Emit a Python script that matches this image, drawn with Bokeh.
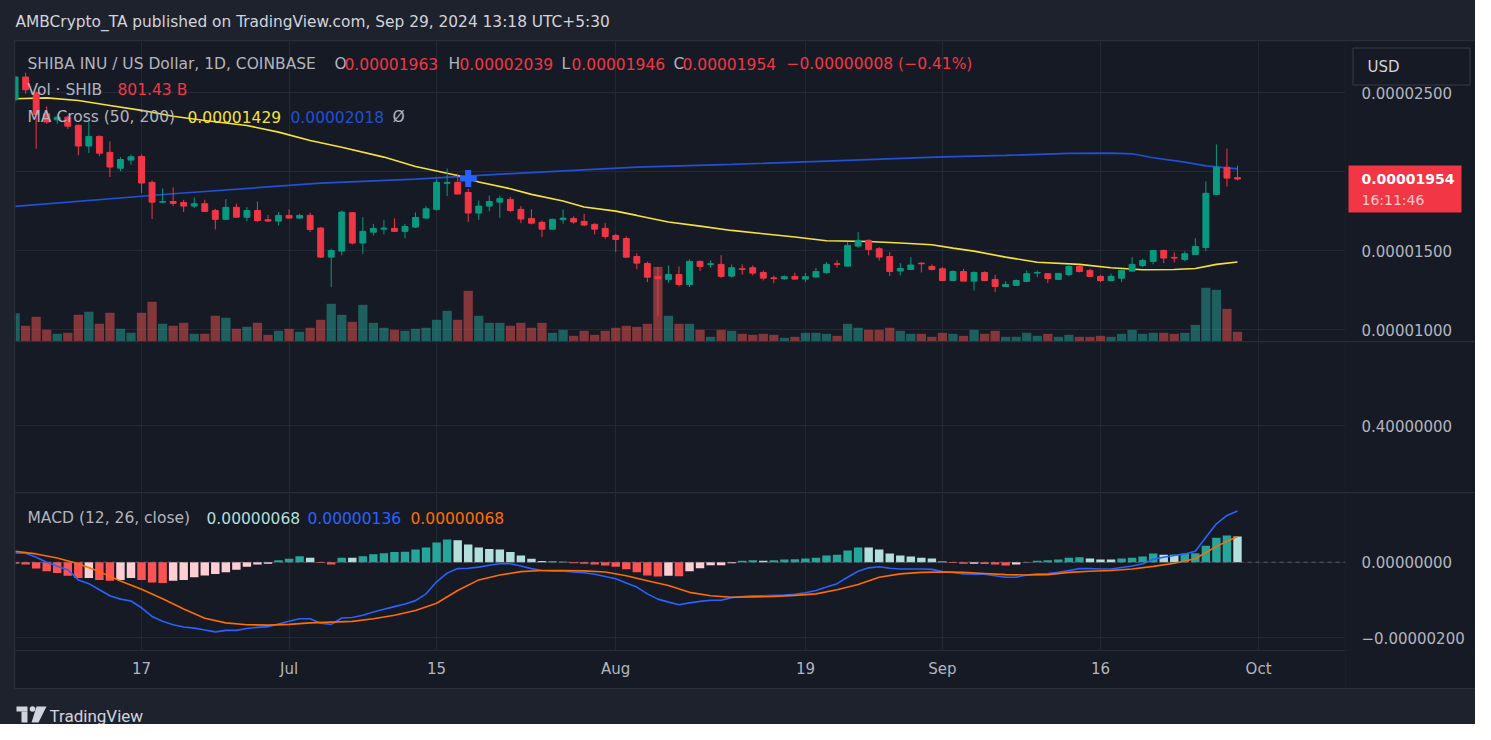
import numpy as np
import pandas as pd
from bokeh.plotting import figure
from bokeh.models import (ColumnDataSource, Range1d, FixedTicker, CustomJSTickFormatter,
                          Span, Grid, Spacer)
from bokeh.layouts import column, row
from bokeh.core.properties import value
from bokeh.embed import file_html
from bokeh.resources import INLINE

# ------------------------------------------------------------------ data
# prices are in units of 1e-8 USD; one candle per day starting at first_day
first_day = "2024-06-05"
opens = [2456, 2600, 2500, 2367, 2329, 2346, 2294, 2163, 2224, 2123,
         2023, 2074, 2097, 1933, 1808, 1812, 1806, 1783, 1798, 1755,
         1699, 1775, 1713, 1755, 1697, 1688, 1724, 1707, 1724, 1644,
         1460, 1498, 1741, 1549, 1618, 1637, 1642, 1623, 1650, 1707,
         1762, 1927, 1933, 1869, 1739, 1783, 1808, 1825, 1762, 1705,
         1680, 1637, 1697, 1705, 1686, 1667, 1642, 1597, 1578, 1464,
         1420, 1338, 1319, 1350, 1287, 1433, 1414, 1414, 1340, 1386,
         1393, 1363, 1329, 1323, 1338, 1321, 1334, 1363, 1418, 1403,
         1530, 1566, 1513, 1464, 1372, 1382, 1422, 1401, 1386, 1312,
         1369, 1308, 1363, 1319, 1274, 1281, 1306, 1359, 1355, 1319,
         1350, 1401, 1376, 1338, 1312, 1327, 1372, 1407, 1433, 1502,
         1458, 1445, 1477, 1521, 1857, 2029, 1963]
highs = [2610, 2627, 2510, 2414, 2357, 2357, 2300, 2315, 2230, 2192,
         2093, 2110, 2110, 1945, 1895, 1901, 1823, 1838, 1823, 1766,
         1827, 1798, 1776, 1812, 1726, 1745, 1762, 1734, 1741, 1650,
         1513, 1755, 1745, 1713, 1671, 1696, 1705, 1671, 1743, 1783,
         1952, 2021, 1988, 1893, 1819, 1850, 1850, 1840, 1783, 1762,
         1692, 1703, 1762, 1718, 1734, 1675, 1675, 1608, 1591, 1485,
         1431, 1397, 1407, 1401, 1445, 1437, 1439, 1473, 1414, 1414,
         1407, 1376, 1344, 1344, 1361, 1359, 1393, 1428, 1439, 1555,
         1618, 1572, 1523, 1492, 1422, 1460, 1428, 1414, 1397, 1376,
         1386, 1369, 1369, 1348, 1308, 1319, 1376, 1376, 1359, 1359,
         1414, 1407, 1386, 1348, 1355, 1380, 1460, 1450, 1506, 1509,
         1490, 1496, 1580, 1939, 2173, 2148, 2039]
lows = [2440, 2494, 2146, 2304, 2304, 2272, 2104, 2118, 2099, 1967,
        2004, 2045, 1865, 1701, 1802, 1783, 1745, 1770, 1745, 1635,
        1695, 1710, 1688, 1682, 1684, 1660, 1703, 1703, 1618, 1455,
        1270, 1471, 1540, 1481, 1597, 1604, 1618, 1580, 1644, 1703,
        1755, 1846, 1859, 1682, 1696, 1751, 1709, 1745, 1675, 1667,
        1587, 1637, 1671, 1671, 1656, 1604, 1576, 1492, 1456, 1384,
        1302, 1085, 1298, 1274, 1270, 1372, 1393, 1329, 1329, 1350,
        1344, 1312, 1296, 1317, 1317, 1302, 1329, 1355, 1393, 1403,
        1519, 1471, 1439, 1340, 1344, 1382, 1363, 1376, 1308, 1308,
        1308, 1249, 1308, 1238, 1274, 1281, 1302, 1333, 1296, 1317,
        1338, 1363, 1334, 1302, 1306, 1302, 1369, 1397, 1414, 1422,
        1426, 1435, 1477, 1498, 1857, 1907, 1946]
closes = [2600, 2519, 2363, 2315, 2346, 2289, 2163, 2224, 2118, 2030,
          2078, 2095, 1929, 1808, 1812, 1800, 1783, 1798, 1749, 1699,
          1775, 1713, 1755, 1692, 1688, 1724, 1707, 1724, 1635, 1460,
          1502, 1745, 1549, 1623, 1642, 1644, 1623, 1654, 1711, 1766,
          1933, 1933, 1859, 1739, 1783, 1812, 1831, 1755, 1701, 1675,
          1637, 1699, 1707, 1682, 1663, 1637, 1591, 1572, 1460, 1422,
          1333, 1323, 1350, 1287, 1433, 1401, 1418, 1338, 1393, 1382,
          1359, 1327, 1325, 1336, 1321, 1336, 1369, 1414, 1414, 1534,
          1566, 1509, 1460, 1369, 1388, 1410, 1418, 1382, 1312, 1369,
          1308, 1363, 1312, 1274, 1287, 1312, 1355, 1363, 1325, 1357,
          1401, 1369, 1338, 1312, 1338, 1376, 1414, 1439, 1502, 1454,
          1454, 1481, 1528, 1864, 2029, 1960, 1954]
# volume in billions of SHIB
volume_b = [2338, 1297, 2040, 966, 636, 719, 2205, 2453, 1462, 2371,
            1049, 719, 2371, 3279, 1462, 1297, 1545, 636, 636, 2123,
            1958, 1049, 1214, 1545, 553, 884, 1049, 801, 1132, 1792,
            3114, 2205, 1627, 3031, 1545, 1132, 966, 884, 1049, 1132,
            1792, 2536, 1792, 4188, 2123, 1545, 1545, 1297, 1545, 1132,
            1545, 719, 966, 471, 884, 553, 884, 1132, 1297, 1214,
            1462, 6170, 2123, 1462, 1462, 966, 388, 966, 884, 636,
            553, 636, 553, 306, 388, 719, 719, 636, 471, 1462,
            1132, 966, 966, 1132, 884, 636, 636, 388, 719, 636,
            471, 966, 636, 884, 388, 388, 719, 471, 636, 388,
            553, 388, 388, 471, 388, 636, 966, 636, 719, 719,
            636, 719, 1379, 4436, 4270, 2701, 801.43]
price_change_text = "\u22120.00000008 (\u22120.41%)"
countdown_text = "16:11:46"
currency_text = "USD"

# moving averages read at sample days (day offsets from first_day)
ma50_days = [0, 3, 6, 9, 12, 15, 18, 22, 25, 28, 31, 35, 38, 42, 44, 47, 49, 52, 54, 57,
             59, 62, 65, 68, 71, 74, 76, 77, 81, 84, 87, 89, 91, 94, 97, 101, 104, 107,
             110, 112, 114, 116]
ma50_vals = [2462, 2468, 2451, 2420, 2389, 2352, 2325, 2293, 2251, 2198, 2155, 2093, 2034,
             1977, 1935, 1893, 1857, 1815, 1777, 1751, 1724, 1682, 1656, 1629, 1608, 1587,
             1572, 1564, 1559, 1549, 1538, 1517, 1498, 1460, 1428, 1414, 1393, 1380, 1382,
             1388, 1414, 1429]
ma200_days = [0, 15, 29, 38, 48, 59, 68, 77, 88, 94, 100, 104, 106, 108, 111, 113, 116]
ma200_vals = [1781, 1861, 1928, 1954, 1992, 2030, 2047, 2068, 2094, 2104, 2116, 2118,
              2114, 2089, 2061, 2038, 2018]
cross_days = [43]
cross_vals = [1958]

# MACD (units of 1e-8)
macd_line = [24.8, 24, 13, 0, -11, -20, -47, -57, -73, -89,
             -98, -103, -121, -144, -157, -166, -172, -175, -180, -185,
             -181, -181, -176, -173, -171, -164, -157, -150, -150, -162,
             -165, -148, -147, -141, -132, -125, -118, -111, -102, -84,
             -52, -29, -17, -16, -13, -8, -4, -4, -10, -17,
             -22, -24, -24, -26, -28, -32, -38, -44, -55, -66,
             -84, -98, -106, -113, -108, -104, -101, -101, -94, -91,
             -89, -89, -88, -87, -85, -81, -75, -66, -57, -40,
             -24, -15, -12, -16, -18, -18, -18, -19, -25, -27,
             -31, -32, -32, -36, -40, -40, -34, -31, -30, -27,
             -22, -17, -17, -18, -18, -14, -10, -4, 8, 13,
             18, 22, 29, 66, 102, 124, 136]
macd_hist = [-4, -6, -17, -24, -29, -36, -42, -42, -47, -49,
             -47, -42, -47, -54, -55, -49, -47, -40, -35, -31,
             -27, -20, -12, -6, -4, 5, 9, 16, 12, -2,
             -6, 12, 12, 16, 21, 24, 27, 28, 34, 39,
             52, 60, 58, 47, 39, 35, 34, 27, 18, 9,
             3, 2, 1, -3, -4, -6, -9, -12, -19, -27,
             -35, -38, -36, -37, -24, -16, -8, -8, -3, 4,
             5, 4, 5, 7, 8, 10, 12, 18, 20, 31,
             39, 39, 34, 23, 18, 15, 12, 10, 2, -2,
             -4, -4, -5, -6, -9, -6, -1, 4, 5, 7,
             12, 13, 10, 7, 7, 10, 12, 15, 23, 20,
             20, 23, 24, 44, 65, 71, 68]
signal_days = [0, 2, 4, 6, 8, 10, 12, 14, 16, 18, 20, 22, 24, 26, 28, 30, 32, 34, 36, 38,
               40, 42, 44, 46, 48, 50, 52, 54, 56, 58, 60, 62, 64, 66, 68, 70, 72, 74, 76,
               78, 80, 82, 84, 86, 88, 90, 92, 94, 96, 98, 100, 102, 104, 106, 108, 110,
               112, 114, 116]
signal_vals = [29, 22, 11, -4, -25, -50, -72, -97, -124, -149, -161, -166, -167, -165, -161,
               -159, -157, -150, -141, -128, -109, -75, -47, -34, -25, -22, -22, -23, -26,
               -36, -49, -62, -80, -89, -93, -92, -91, -88, -84, -73, -59, -40, -31, -27,
               -26, -27, -30, -33, -34, -33, -27, -24, -22, -18, -11, -3, 9, 42, 68]

x_tick_dates = ["2024-06-17", "2024-07-01", "2024-07-15", "2024-08-01",
                "2024-08-19", "2024-09-01", "2024-09-16", "2024-10-01"]
x_tick_labels = ["17", "Jul", "15", "Aug", "19", "Sep", "16", "Oct"]
price_ticks = [1000, 1500, 2000, 2500]
macd_ticks = [-200, 0]
empty_ticks = [0.4]

# ------------------------------------------------------------------ style
FONT = "DejaVu Sans"
BG = "#161a25"
OUTER = "#1e222d"
GRID = "#242834"
SEP = "#2a2e39"
TXT = "#b2b5be"
AXT = "#b2b5be"
UP = "#089981"
DOWN = "#f23645"
VOL_UP = "#26a69a"
VOL_DOWN = "#ef5350"
MA50_C = "#f5e33b"
MA200_C = "#2150d6"
MACD_C = "#2962ff"
SIG_C = "#ff6d00"

DAY = 86400000.0
base = pd.Timestamp(first_day)


def day_ms(d):
    return float((base + pd.Timedelta(days=int(d))).value // 10**6)


def date_ms(s):
    return float(pd.Timestamp(s).value // 10**6)


n = len(opens)
xs = np.array([day_ms(d) for d in range(n)])
O = np.array(opens, float); H = np.array(highs, float)
L = np.array(lows, float); C = np.array(closes, float)
up = C >= O
colors = np.where(up, UP, DOWN)
vcolors = np.where(up, VOL_UP, VOL_DOWN)

tick_ms = [date_ms(s) for s in x_tick_dates]
t17 = tick_ms[0]
x_start = t17 - 11.96 * DAY
x_end = t17 + 114.25 * DAY
xr = Range1d(x_start, x_end)

# page-pixel helpers (plot frames span x 15..1345)
FR_L, FR_R = 15.0, 1345.0


def X(px):
    return x_start + (px - FR_L) / (FR_R - FR_L) * (x_end - x_start)


P_TOP = 1500 + (250.3 - 41) / 0.158
P_BOT = 1500 - (341 - 250.3) / 0.158


def PY(py):
    return P_TOP - (py - 41) / 300.0 * (P_TOP - P_BOT)


def P2PX(p):
    return 41 + (P_TOP - p) / (P_TOP - P_BOT) * 300.0


M_TOP = (561.7 - 493) / 0.3767
M_BOT = (561.7 - 650) / 0.3767


def MY(py):
    return M_TOP - (py - 493) / 157.0 * (M_TOP - M_BOT)


def fmt8(v):
    s = "%.8f" % abs(v * 1e-8)
    return ("\u2212" if v < 0 else "") + s


lab_map = {str(int(t)): l for t, l in zip(tick_ms, x_tick_labels)}
map_js = "{" + ",".join('"%s":"%s"' % (k, v) for k, v in lab_map.items()) + "}"
fmt_x = CustomJSTickFormatter(code="const m = %s; const k = String(Math.round(tick)); return (k in m) ? m[k] : '';" % map_js)


def no_grid(f):
    for g in f.grid:
        g.grid_line_color = None


def pane(height, y_range, bottom=0):
    p = figure(width=1330, height=height, x_range=xr, y_range=y_range,
               x_axis_location=("below" if bottom else None), y_axis_location=None,
               toolbar_location=None, output_backend="svg",
               min_border_left=0, min_border_right=0, min_border_top=0,
               min_border_bottom=bottom)
    p.background_fill_color = BG
    p.border_fill_color = BG
    p.outline_line_color = None
    no_grid(p)
    p.add_layout(Grid(dimension=0, ticker=FixedTicker(ticks=tick_ms), grid_line_color=GRID))
    if bottom:
        xa = p.xaxis[0]
        xa.ticker = FixedTicker(ticks=tick_ms)
        xa.formatter = fmt_x
        xa.axis_line_color = SEP
        xa.major_tick_line_color = None
        xa.minor_tick_line_color = None
        xa.major_label_text_color = AXT
        xa.major_label_text_font = FONT
        xa.major_label_text_font_size = "15px"
        xa.major_label_standoff = 3
    return p


def scale_fig(height, y_range, bottom=0):
    f = figure(width=130, height=height, x_range=Range1d(0, 130), y_range=y_range,
               x_axis_location=None, y_axis_location=None, toolbar_location=None,
               output_backend="svg", min_border_left=0, min_border_right=0,
               min_border_top=0, min_border_bottom=bottom)
    f.background_fill_color = BG
    f.border_fill_color = BG
    f.outline_line_color = None
    no_grid(f)
    return f


def hgrid(p, ticks):
    p.add_layout(Grid(dimension=1, ticker=FixedTicker(ticks=ticks), grid_line_color=GRID))


def scale_labels(f, ticks, labels):
    f.text(x=[16] * len(ticks), y=ticks, text=labels, text_color=AXT,
           text_font=value(FONT), text_font_size="15px", text_baseline="middle",
           text_align="left")


# ------------------------------------------------------------------ main pane
main_y = Range1d(P_BOT, P_TOP)
main = pane(300, main_y)
hgrid(main, price_ticks)
main.extra_y_ranges = {"vol": Range1d(0, 300 * 82.6)}

src = ColumnDataSource(dict(x=xs, o=O, h=H, l=L, c=C,
                            top=np.maximum(O, C), bot=np.minimum(O, C),
                            color=colors, vcolor=vcolors, vol=np.array(volume_b, float)))
main.vbar(x="x", width=0.88 * DAY, top="vol", bottom=0, y_range_name="vol",
          fill_color="vcolor", line_color=None, fill_alpha=0.5, source=src)
main.line([day_ms(d) for d in ma200_days], ma200_vals, line_color=MA200_C, line_width=1.7)
main.line([day_ms(d) for d in ma50_days], ma50_vals, line_color=MA50_C, line_width=1.6)
main.segment(x0="x", y0="l", x1="x", y1="h", line_color="color", line_width=1, source=src)
main.vbar(x="x", width=0.56 * DAY, top="top", bottom="bot", fill_color="color",
          line_color="color", line_width=1, source=src)
main.scatter([day_ms(d) for d in cross_days], cross_vals, marker="cross", size=17,
             line_width=6, line_color="#2962ff")

RED_T = DOWN if closes[-1] < opens[-1] else UP
legend_items = [
    ("SHIBA INU / US Dollar, 1D, COINBASE", TXT, 27, 63),
    ("O", TXT, 334, 63), ("%.8f" % (opens[-1] * 1e-8), RED_T, 344, 63),
    ("H", TXT, 448, 63), ("%.8f" % (highs[-1] * 1e-8), RED_T, 459, 63),
    ("L", TXT, 561, 63), ("%.8f" % (lows[-1] * 1e-8), RED_T, 571, 63),
    ("C", TXT, 673, 63), ("%.8f" % (closes[-1] * 1e-8), RED_T, 682, 63),
    (price_change_text, RED_T, 786, 63),
    ("Vol \u00b7 SHIB", TXT, 27, 89), ("%.2f B" % volume_b[-1], RED_T, 117, 89),
    ("MA Cross (50, 200)", TXT, 27, 116),
    ("%.8f" % (ma50_vals[-1] * 1e-8), MA50_C, 187, 116),
    ("%.8f" % (ma200_vals[-1] * 1e-8), MA200_C, 290, 116),
    ("\u00d8", TXT, 392, 116),
]
leg = ColumnDataSource(dict(x=[X(i[2]) for i in legend_items], y=[PY(i[3]) for i in legend_items],
                            text=[i[0] for i in legend_items], color=[i[1] for i in legend_items]))
main.text(x="x", y="y", text="text", text_color="color", source=leg,
          text_font=value(FONT), text_font_size="15.5px", text_baseline="middle", text_align="left")

main_s = scale_fig(300, main_y)
scale_labels(main_s, price_ticks, [fmt8(t) for t in price_ticks])
# last-price tag
cpx = P2PX(closes[-1])
main_s.quad(left=[3], right=[116], top=[PY(cpx - 13.6)], bottom=[PY(cpx + 33.4)],
            fill_color=DOWN, line_color=None)
main_s.text(x=[16], y=[closes[-1]], text=[fmt8(closes[-1])], text_color="#ffffff",
            text_font=value(FONT), text_font_size="14px", text_font_style="bold",
            text_baseline="middle", text_align="left")
main_s.text(x=[16], y=[PY(cpx + 21)], text=[countdown_text], text_color="#fbc8cd",
            text_font=value(FONT), text_font_size="14px",
            text_baseline="middle", text_align="left")
# currency box
main_s.quad(left=[7.5], right=[124.5], top=[PY(47.5)], bottom=[PY(84.5)],
            fill_color=BG, line_color="#363a45", line_width=1)
main_s.text(x=[22], y=[PY(66)], text=[currency_text], text_color="#d1d4dc",
            text_font=value(FONT), text_font_size="15px",
            text_baseline="middle", text_align="left")

# ------------------------------------------------------------------ empty pane
E_TOP = 0.4 + (425.3 - 342) * 0.005
E_BOT = 0.4 - (492 - 425.3) * 0.005
empty_y = Range1d(E_BOT, E_TOP)
empty = pane(150, empty_y)
hgrid(empty, empty_ticks)
empty_s = scale_fig(150, empty_y)
scale_labels(empty_s, empty_ticks, ["%.8f" % t for t in empty_ticks])

# ------------------------------------------------------------------ MACD pane
macd_y = Range1d(M_BOT, M_TOP)
macd = pane(195, macd_y, bottom=38)
hgrid(macd, macd_ticks)
hist_colors = []
for i, h in enumerate(macd_hist):
    prev = macd_hist[i - 1] if i > 0 else 0
    if h >= 0:
        hist_colors.append("#26a69a" if (i > 0 and h > prev) else "#b2dfdb")
    else:
        hist_colors.append("#ff5252" if (i == 0 or h < prev) else "#ffcdd2")
hsrc = ColumnDataSource(dict(x=xs, h=macd_hist, color=hist_colors))
macd.vbar(x="x", width=0.8 * DAY, top="h", bottom=0, fill_color="color",
          line_color=None, source=hsrc)
macd.add_layout(Span(location=0, dimension="width", line_color="#787b86",
                     line_alpha=0.6, line_dash="4 4", line_width=1))
macd.line(xs, macd_line, line_color=MACD_C, line_width=1.6)
macd.line([day_ms(d) for d in signal_days], signal_vals, line_color=SIG_C, line_width=1.6)
macd_items = [
    ("MACD (12, 26, close)", TXT, 27),
    ("%.8f" % (macd_hist[-1] * 1e-8), "#b2dfdb", 206),
    ("%.8f" % (macd_line[-1] * 1e-8), MACD_C, 307),
    ("%.8f" % (signal_vals[-1] * 1e-8), SIG_C, 410),
]
msrc = ColumnDataSource(dict(x=[X(i[2]) for i in macd_items], y=[MY(517)] * len(macd_items),
                             text=[i[0] for i in macd_items], color=[i[1] for i in macd_items]))
macd.text(x="x", y="y", text="text", text_color="color", source=msrc,
          text_font=value(FONT), text_font_size="15.5px", text_baseline="middle", text_align="left")
macd_s = scale_fig(195, macd_y, bottom=38)
scale_labels(macd_s, macd_ticks, [fmt8(t) for t in macd_ticks])


# ------------------------------------------------------------------ header / footer
def strip(h):
    f = figure(width=1475, height=h, x_range=Range1d(0, 1475), y_range=Range1d(h, 0),
               x_axis_location=None, y_axis_location=None, toolbar_location=None,
               output_backend="svg", min_border=0)
    f.background_fill_color = OUTER
    f.border_fill_color = OUTER
    f.outline_line_color = None
    no_grid(f)
    return f


hdr = strip(40)
hdr.text(x=[15], y=[21], text=["AMBCrypto_TA published on TradingView.com, Sep 29, 2024 13:18 UTC+5:30"],
         text_color="#d1d4dc", text_font=value(FONT), text_font_size="15.4px",
         text_baseline="middle", text_align="left")

ftr = strip(35)
LOGO = "#d1d4dc"
ftr.quad(left=[16], right=[27], top=[17], bottom=[22], fill_color=LOGO, line_color=None)
ftr.quad(left=[21], right=[27], top=[22], bottom=[33], fill_color=LOGO, line_color=None)
ftr.circle(x=[32], y=[19.5], radius=2.8, fill_color=LOGO, line_color=None)
ftr.patch([36, 46, 38, 31], [17, 17, 33, 33], fill_color=LOGO, line_color=None)
ftr.text(x=[49], y=[26], text=["TradingView"], text_color=LOGO,
         text_font=value("Roboto"), text_font_size="17px",
         text_baseline="middle", text_align="left")


# ------------------------------------------------------------------ layout
def bar(w, h, color):
    return Spacer(width=w, height=h, styles={"background-color": color})


chart_col = column(bar(1460, 1, SEP), row(main, main_s, spacing=0), bar(1460, 1, SEP),
                   row(empty, empty_s, spacing=0), bar(1460, 1, SEP),
                   row(macd, macd_s, spacing=0), bar(1460, 1, SEP), spacing=0)
mid = row(bar(14, 649, OUTER), bar(1, 649, SEP), chart_col, spacing=0)
root = column(hdr, mid, ftr, spacing=0, styles={"background-color": OUTER})

open("out.html", "w").write(file_html(root, INLINE))
